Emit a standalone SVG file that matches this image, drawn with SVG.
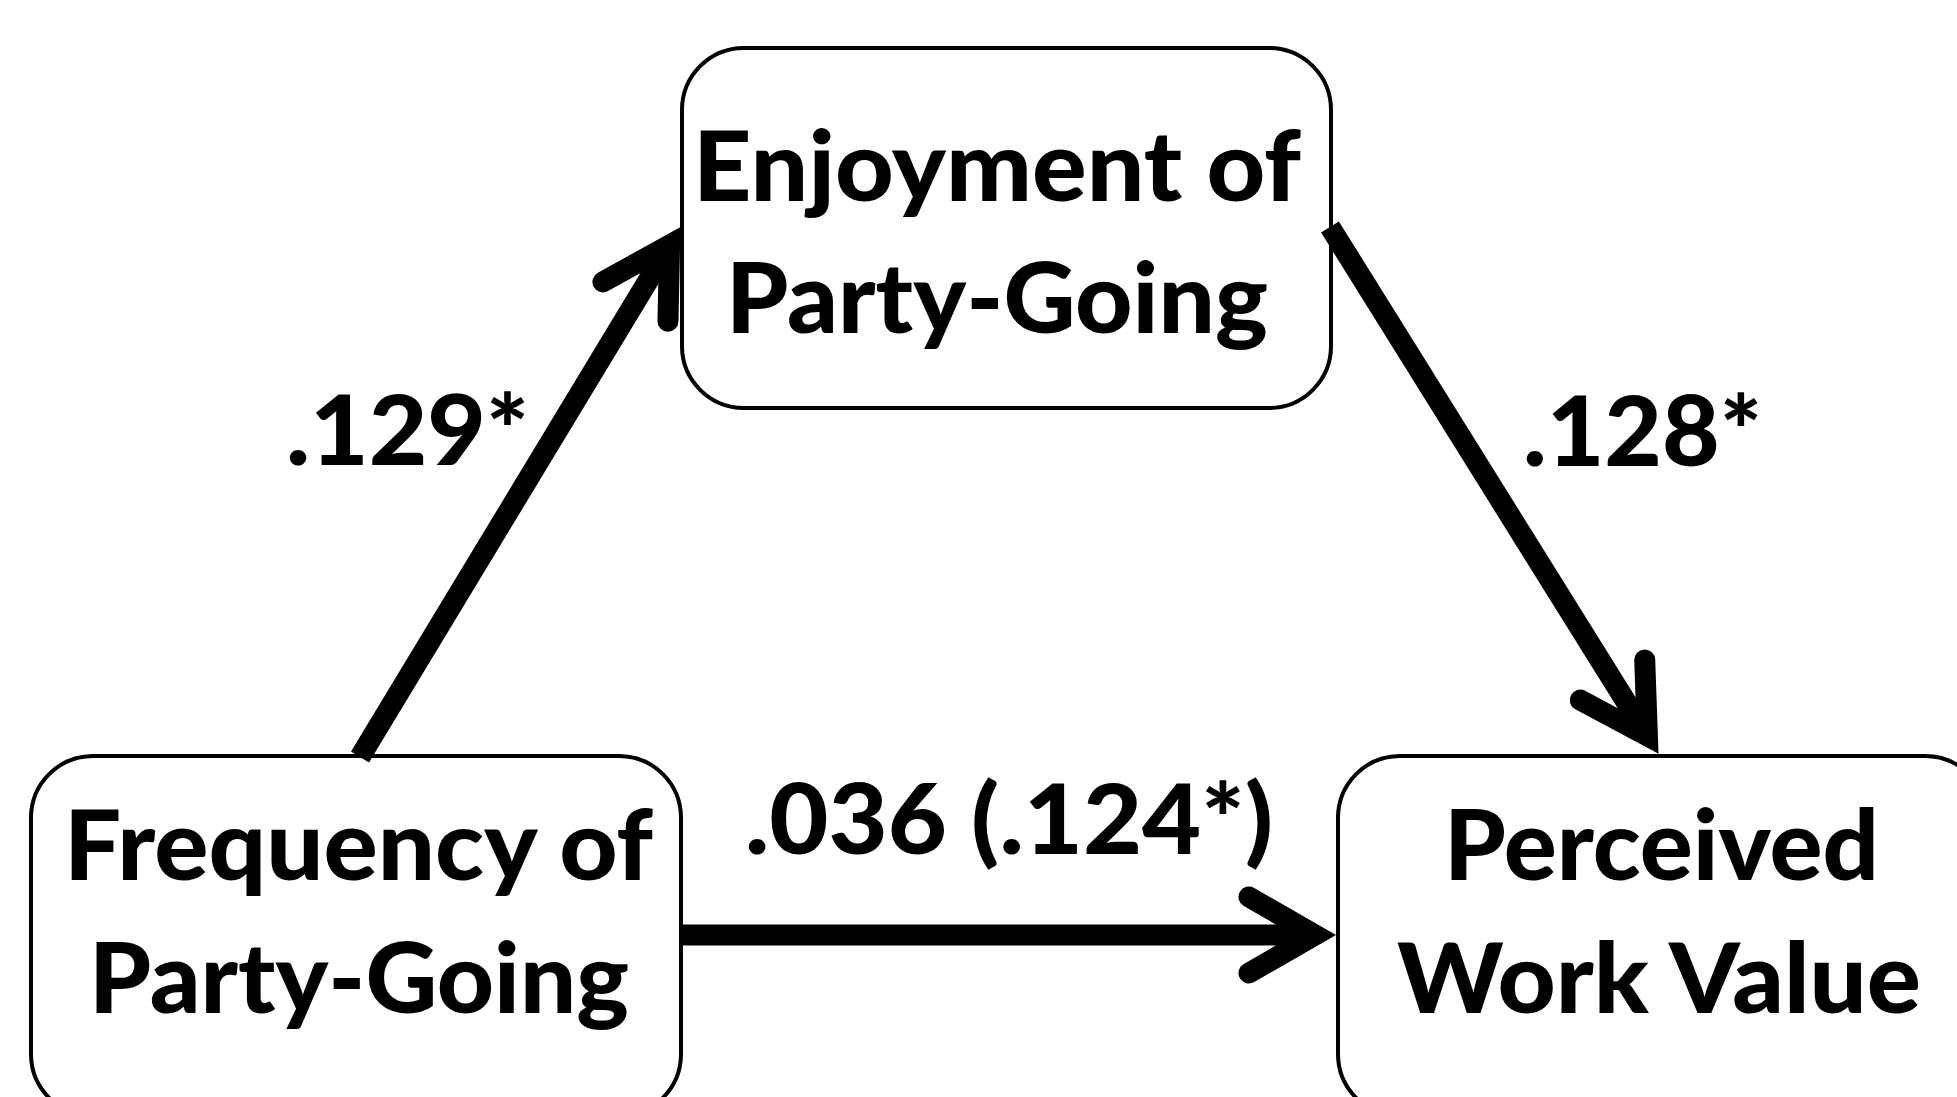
<svg xmlns="http://www.w3.org/2000/svg" width="1957" height="1097" viewBox="0 0 1957 1097">
  <style>
    .box { fill: #ffffff; stroke: #000000; stroke-width: 4; }
    .lbl { font-family: Lato, "Open Sans", "Liberation Sans", sans-serif; font-weight: 900; font-size: 97px; fill: #000000; text-anchor: middle; }
    .edge { fill: none; stroke: #000000; stroke-width: 21; stroke-linecap: butt; }
  </style>
  <defs>
    <marker id="arrow" markerUnits="userSpaceOnUse" orient="auto" refX="0" refY="0" markerWidth="200" markerHeight="200" viewBox="-100 -100 200 200" overflow="visible">
      <path d="M -66 -38 L 0 0 L -66 38" fill="none" stroke="#000000" stroke-width="21" stroke-linejoin="miter" stroke-linecap="round" stroke-miterlimit="4"/>
    </marker>
  </defs>
  <rect width="1957" height="1097" fill="#ffffff"/>

  <g id="node-enjoyment">
    <rect class="box" x="682" y="48" width="649" height="360" rx="62" ry="62"/>
    <text class="lbl" x="997" y="201" textLength="608" lengthAdjust="spacingAndGlyphs">Enjoyment of</text>
    <text class="lbl" x="997" y="333" textLength="542" lengthAdjust="spacingAndGlyphs">Party-Going</text>
  </g>

  <g id="node-frequency">
    <rect class="box" x="31" y="756" width="650" height="360" rx="62" ry="62"/>
    <text class="lbl" x="358.5" y="880" textLength="589" lengthAdjust="spacingAndGlyphs">Frequency of</text>
    <text class="lbl" x="359" y="1013" textLength="540" lengthAdjust="spacingAndGlyphs">Party-Going</text>
  </g>

  <g id="node-perceived">
    <rect class="box" x="1338" y="756" width="649" height="360" rx="62" ry="62"/>
    <text class="lbl" x="1661.5" y="880" textLength="435" lengthAdjust="spacingAndGlyphs">Perceived</text>
    <text class="lbl" x="1659" y="1013" textLength="524" lengthAdjust="spacingAndGlyphs">Work Value</text>
  </g>

  <g id="connectors">
    <line class="edge" x1="360" y1="757" x2="669.6" y2="245.1" marker-end="url(#arrow)"/>
    <line class="edge" x1="1330" y1="227" x2="1647.4" y2="736" marker-end="url(#arrow)"/>
    <line class="edge" x1="682" y1="935" x2="1315" y2="935" marker-end="url(#arrow)"/>
  </g>

  <g id="edge-labels">
    <text class="lbl" x="407.5" y="465" textLength="243" lengthAdjust="spacingAndGlyphs">.129*</text>
    <text class="lbl" x="1642.5" y="466" textLength="239" lengthAdjust="spacingAndGlyphs">.128*</text>
    <text class="lbl" x="1009" y="854" textLength="528" lengthAdjust="spacingAndGlyphs">.036 (.124*)</text>
  </g>
</svg>
